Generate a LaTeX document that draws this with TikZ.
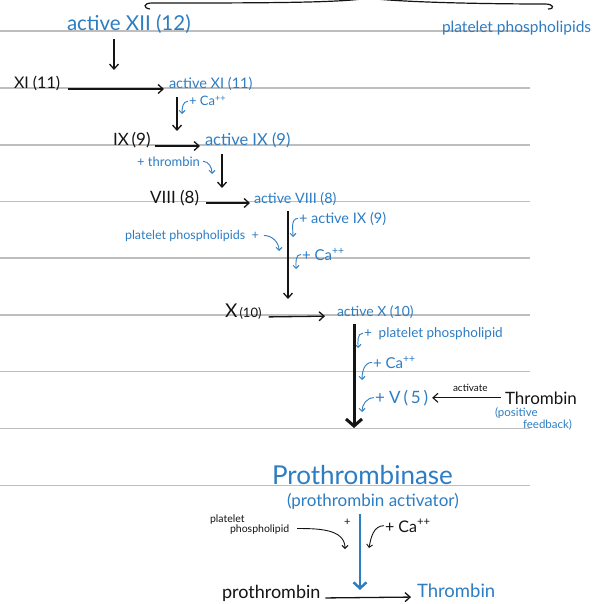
\documentclass[tikz,border=0pt]{standalone}
\usepackage{fontspec}
\setmainfont{Lato}
\usetikzlibrary{arrows.meta}
\definecolor{ink}{RGB}{20,20,20}
\definecolor{handblue}{RGB}{45,125,195}
\definecolor{rulegray}{RGB}{190,190,190}
\newcommand{\fsz}[1]{\fontsize{#1}{#1}\selectfont}
\tikzset{
  every node/.style={inner sep=0pt, outer sep=0pt},
  blacktext/.style={anchor=base west, text=ink},
  bluetext/.style={anchor=base west, text=handblue},
  reaction/.style={draw=ink, line width=1.3pt, -{Straight Barb[length=5pt,width=9pt]}},
  bigreaction/.style={draw=ink, line width=3pt, -{Straight Barb[length=7pt,width=16pt]}},
  bluereaction/.style={draw=handblue, line width=2.5pt, -{Straight Barb[length=6pt,width=13pt]}},
  hookarrow/.style={draw=handblue, line width=0.9pt, -{Straight Barb[length=3pt,width=6pt]}},
  blackhook/.style={draw=ink, line width=0.9pt, -{Straight Barb[length=3pt,width=6pt]}},
  ruleline/.style={draw=rulegray, line width=1.2pt}
}
\begin{document}
\begin{tikzpicture}[x=1pt,y=-1pt]
\useasboundingbox (0,0) rectangle (594,604);
\fill[white] (0,0) rectangle (594,604);

% notebook rules
\foreach \yy in {31,88,145,201.5,258,315,371.5,428.5,485.5}
  \draw[ruleline] (0,\yy) -- (530,\yy);

% brace closing the group above
\draw[ink, line width=1.2pt]
  (150,9) .. controls (143,8) and (143,3) .. (152,3)
  .. controls (250,3) and (330,3) .. (362,-1);
\draw[ink, line width=1.2pt]
  (376,-1) .. controls (420,3) and (500,4) .. (545,4)
  .. controls (554,4) and (555,9) .. (548,9);

% ---- intrinsic cascade ----
\node[bluetext, font=\fsz{20.5}] (xiiA) at (67,31) {active XII (12)};
\node[bluetext, font=\fsz{15.5}] (plTop) at (442,33) {platelet phospholipids};

\node[blacktext, font=\fsz{16}] (xi) at (14,89) {XI (11)};
\node[bluetext, font=\fsz{14.5}] (xiA) at (169,89) {active XI (11)};
\coordinate (xiStep) at (114,70);
\draw[reaction, shorten <=5pt] (xiiA.south -| xiStep) -- (xiStep);
\draw[reaction, shorten <=8pt, shorten >=5pt] (xi.base east) -- (xiA.base west);

\node[bluetext, font=\fsz{13}] (caA) at (189,106) {+ Ca\textsuperscript{++}};
\coordinate (caAend) at (182,114);
\draw[hookarrow] ([xshift=-1pt]caA.west) to[out=180,in=90] (caAend);

\node[blacktext, font=\fsz{17}] (ix) at (113,146) {IX\,(9)};
\node[bluetext, font=\fsz{16.5}] (ixA) at (205,146) {active IX (9)};
\coordinate (ixStep) at (177,131);
\draw[reaction, shorten <=6pt] (xiA.south -| ixStep) -- (ixStep);
\draw[reaction, shorten <=4pt, shorten >=5pt] (ix.base east) -- (ixA.base west);

\node[bluetext, font=\fsz{13}] (thrPlus) at (137,166) {+ thrombin};
\coordinate (thrEnd) at (212,174);
\draw[hookarrow] ([xshift=3pt]thrPlus.east) to[out=0,in=90] (thrEnd);

\node[blacktext, font=\fsz{17}] (viii) at (150,203) {VIII (8)};
\node[bluetext, font=\fsz{14.3}] (viiiA) at (254,203) {active VIII (8)};
\coordinate (viiiStep) at (222,188);
\draw[reaction, shorten <=6pt] (ixA.south -| viiiStep) -- (viiiStep);
\draw[reaction, shorten <=7pt, shorten >=4pt] (viii.base east) -- (viiiA.base west);

\node[bluetext, font=\fsz{14.5}] (ixPlus) at (299,223) {+ active IX (9)};
\coordinate (ixPlusEnd) at (293,237);
\draw[hookarrow] ([xshift=-1pt]ixPlus.west) to[out=180,in=90] (ixPlusEnd);

\node[bluetext, font=\fsz{15}] (caB) at (302,260) {+ Ca\textsuperscript{++}};
\coordinate (caBend) at (296,269);
\draw[hookarrow] ([xshift=-1pt]caB.west) to[out=180,in=90] (caBend);

\node[bluetext, font=\fsz{12.5}] (plMid) at (125,239) {platelet phospholipids\ \ +};
\coordinate (plMidEnd) at (279,251);
\draw[hookarrow] ([xshift=5pt]plMid.east) to[out=0,in=90] (plMidEnd);

% ---- common pathway ----
\node[blacktext] (x) at (225,317) {\fsz{19}X\fsz{13}\,(10)};
\node[bluetext, font=\fsz{14}] (xA) at (337,316) {active X (10)};
\coordinate (xStep) at (288,299);
\draw[reaction, shorten <=6pt] (viiiA.south -| xStep) -- (xStep);
\draw[reaction, shorten <=7pt, shorten >=12pt] (x.base east) -- (xA.base west);

\node[bluetext, font=\fsz{13.5}] (plLow) at (364,337) {+ \ platelet phospholipid};
\coordinate (plLowEnd) at (358,348);
\draw[hookarrow] ([xshift=-1pt]plLow.west) to[out=180,in=90] (plLowEnd);

\node[bluetext, font=\fsz{15}] (caC) at (373,368) {+ Ca\textsuperscript{++}};
\coordinate (caCend) at (362,380);
\draw[hookarrow] ([xshift=-1pt]caC.west) to[out=180,in=90] (caCend);

\node[bluetext, font=\fsz{17}] (v) at (375,403) {+ V\,(\,5\,)};
\coordinate (vEnd) at (362,412);
\draw[hookarrow] ([xshift=-1pt]v.west) to[out=180,in=90] (vEnd);

\coordinate (complexStep) at (354,428);
\draw[bigreaction, shorten <=6pt] (xA.south -| complexStep) -- (complexStep);

\node[blacktext, font=\fsz{17}] (thrFb) at (505,404) {Thrombin};
\node[blacktext, font=\fsz{10}] (actLbl) at (453,391) {activate};
\draw[reaction, line width=1.1pt, shorten <=4pt, shorten >=4pt]
  (thrFb.west) -- (thrFb.west -| v.east);
\node[bluetext, font=\fsz{11.5}] (fb1) at (495,416) {(positive};
\node[bluetext, font=\fsz{11.5}] (fb2) at (523,428) {feedback)};

% ---- prothrombinase ----
\node[bluetext, font=\fsz{26}] (ptase) at (272,484) {Prothrombinase};
\node[bluetext, font=\fsz{17}] (ptaseSub) at (287,506) {(prothrombin activator)};

\node[blacktext, font=\fsz{10.5}, anchor=north west, align=left] (plBot)
  at (210,515) {platelet\\[-1pt]\hspace*{20pt}phospholipid};
\node[blacktext, font=\fsz{11}] (plus) at (344,525) {+};
\coordinate (plBotEnd) at (345,549);
\draw[blackhook] ([xshift=8pt,yshift=-4pt]plBot.east) to[out=0,in=90] (plBotEnd);

\node[blacktext, font=\fsz{16}] (caD) at (385,532) {+ Ca\textsuperscript{++}};
\coordinate (caDend) at (369,548);
\draw[blackhook] ([xshift=-1pt]caD.west) to[out=180,in=80] (caDend);

\node[blacktext, font=\fsz{18}] (proth) at (222,598) {prothrombin};
\node[bluetext, font=\fsz{18.5}] (thrOut) at (417,597) {Thrombin};
\coordinate (prothStep) at (360,590);
\draw[bluereaction, shorten <=5pt] (ptaseSub.south -| prothStep) -- (prothStep);
\draw[reaction, shorten <=5pt, shorten >=6pt] (proth.base east) -- (thrOut.base west);

\end{tikzpicture}
\end{document}
